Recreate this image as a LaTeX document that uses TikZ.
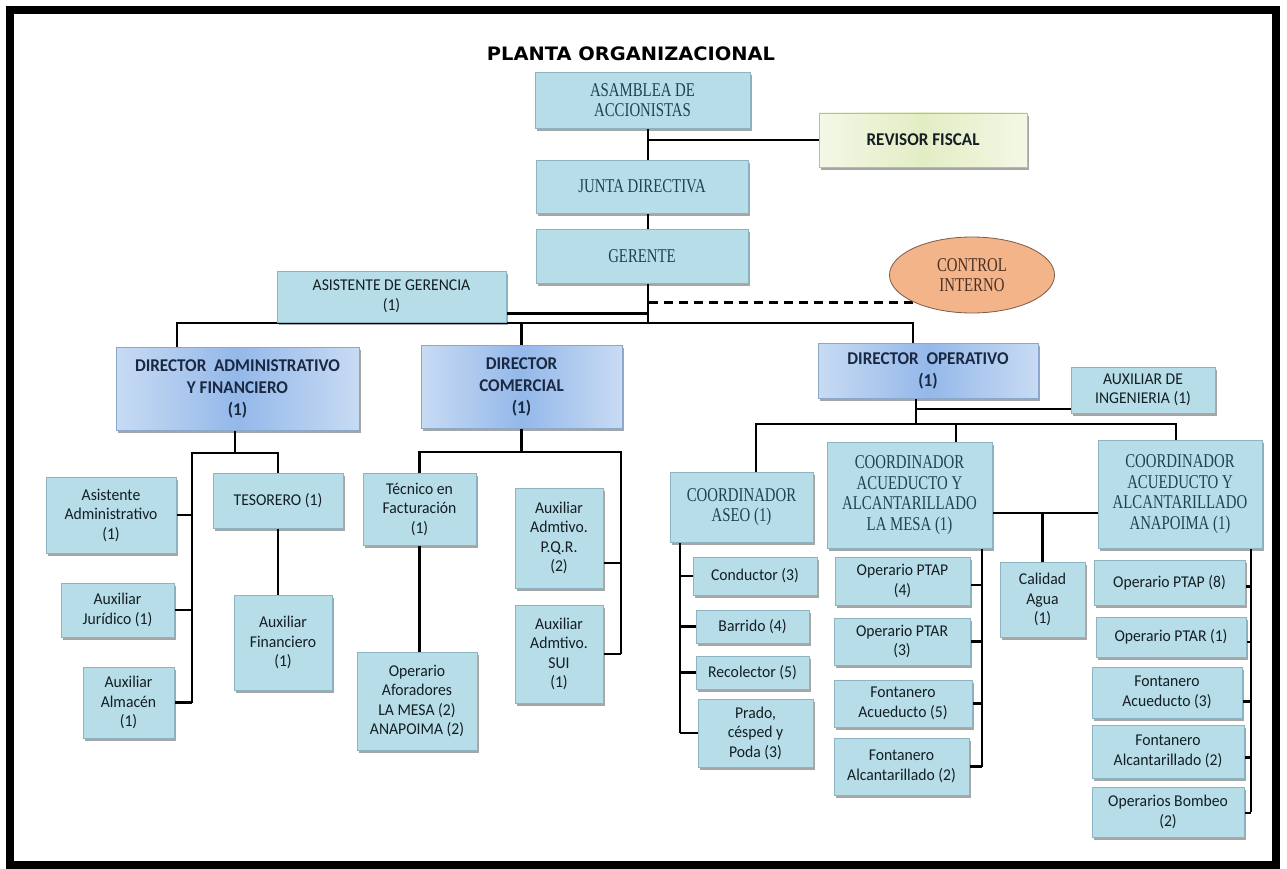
\documentclass[tikz,border=0pt]{standalone}
\usepackage{fontspec}
\setmainfont{Liberation Serif}
\newfontfamily\csans[FakeStretch=0.95]{Carlito}
\newfontfamily\cserif[FakeStretch=0.76]{Liberation Serif}
\newfontfamily\ctitle[FakeStretch=1.05]{DejaVu Sans}
\usetikzlibrary{shadows,backgrounds,calc,shapes.geometric}
\definecolor{lb}{HTML}{B7DDE8}
\definecolor{lbedge}{HTML}{8DB4C2}
\definecolor{txt}{HTML}{141E24}
\definecolor{stxt}{HTML}{1F4252}
\definecolor{dl}{HTML}{C8DBF3}
\definecolor{dd}{HTML}{94B8EA}
\definecolor{dedge}{HTML}{8AA6C8}
\definecolor{dtxt}{HTML}{1A2842}
\definecolor{rl}{HTML}{F3F8E6}
\definecolor{rd}{HTML}{E3EDC4}
\definecolor{redge}{HTML}{B4BFA0}
\definecolor{orf}{HTML}{F4B48A}
\definecolor{ored}{HTML}{7A5A48}
\definecolor{otxt}{HTML}{4A3024}
\tikzset{
  base/.style={rectangle, inner sep=2pt, align=center,
    drop shadow={shadow xshift=2pt, shadow yshift=-3pt, opacity=0.35, fill=black}},
  lbox/.style={base, fill=lb, draw=lbedge, line width=0.8pt,
    font=\csans\fontsize{16.5}{19.5}\selectfont, text=txt},
  sbox/.style={base, fill=lb, draw=lbedge, line width=0.8pt,
    font=\cserif\fontsize{19.5}{20.5}\selectfont, text=stxt},
  dbox/.style={base, left color=dl, right color=dl, middle color=dd, draw=dedge, line width=0.8pt,
    font=\csans\bfseries\fontsize{18}{22}\selectfont, text=dtxt},
  rbox/.style={base, left color=rl, right color=rl, middle color=rd, draw=redge, line width=0.8pt,
    font=\csans\bfseries\fontsize{18}{22}\selectfont, text=txt},
  obox/.style={ellipse, fill=orf, draw=ored, line width=0.8pt, align=center, inner sep=0pt,
    font=\cserif\fontsize{19.5}{20.5}\selectfont, text=otxt},
  conn/.style={line width=2.7pt, black},
  dconn/.style={line width=2.7pt, black, dash pattern=on 9pt off 6pt},
}
\begin{document}
\begin{tikzpicture}[x=1pt, y=-1pt]
\useasboundingbox (0,0) rectangle (1287,869);
\draw[line width=8pt] (10,10) rectangle (1276,865);

\node[font=\ctitle\bfseries\fontsize{18.5}{22}\selectfont] (title) at (631,54) {PLANTA ORGANIZACIONAL};

% top
\node[sbox, minimum width=215pt, minimum height=56pt] (asam) at (642.5,100) {ASAMBLEA DE\\ACCIONISTAS};
\node[rbox, minimum width=208pt, minimum height=54pt] (revisor) at (923,140) {REVISOR FISCAL};
\node[sbox, minimum width=212pt, minimum height=53pt] (junta) at (642,186.5) {JUNTA DIRECTIVA};
\node[sbox, minimum width=212pt, minimum height=54pt] (gerente) at (642,256) {GERENTE};
\node[lbox, minimum width=229pt, minimum height=51pt] (asist) at (391.5,296.5) {ASISTENTE DE GERENCIA\\(1)};
\node[obox, minimum width=165pt, minimum height=76pt] (control) at (972,275) {CONTROL\\INTERNO};

% directors
\node[dbox, minimum width=243pt, minimum height=83pt] (dadm) at (237.5,388.5) {DIRECTOR\ \ ADMINISTRATIVO\\Y FINANCIERO\\(1)};
\node[dbox, minimum width=201pt, minimum height=83pt] (dcom) at (521.5,386.5) {DIRECTOR\\COMERCIAL\\(1)};
\node[dbox, minimum width=220pt, minimum height=55pt] (dop) at (928,370.5) {DIRECTOR\ \ OPERATIVO\\(1)};
\node[lbox, minimum width=144pt, minimum height=46pt] (auxing) at (1143,390) {AUXILIAR DE\\INGENIERIA (1)};

% admin
\node[lbox, minimum width=130pt, minimum height=76pt] (asadm) at (111,515) {Asistente\\Administrativo\\(1)};
\node[lbox, minimum width=113pt, minimum height=54pt] (auxjur) at (117.5,610) {Auxiliar\\Jurídico (1)};
\node[lbox, minimum width=91pt, minimum height=71pt] (auxalm) at (128.5,702.5) {Auxiliar\\Almacén\\(1)};
\node[lbox, minimum width=130pt, minimum height=55pt] (tesor) at (278,500.5) {TESORERO (1)};
\node[lbox, minimum width=98pt, minimum height=95pt] (auxfin) at (283,642.5) {Auxiliar\\Financiero\\(1)};

% comercial
\node[lbox, minimum width=113pt, minimum height=72pt] (tecfac) at (419.5,509) {Técnico en\\Facturación\\(1)};
\node[lbox, minimum width=120pt, minimum height=98pt] (opafo) at (417,701) {Operario\\Aforadores\\LA MESA (2)\\ANAPOIMA (2)};
\node[lbox, minimum width=88pt, minimum height=100pt] (pqr) at (559,538) {Auxiliar\\Admtivo.\\P.Q.R.\\(2)};
\node[lbox, minimum width=88pt, minimum height=98pt] (sui) at (559,654) {Auxiliar\\Admtivo.\\SUI\\(1)};

% operativo
\node[sbox, minimum width=143pt, minimum height=70pt] (aseo) at (741.5,507) {COORDINADOR\\ASEO (1)};
\node[sbox, minimum width=165pt, minimum height=106pt] (lamesa) at (909.5,495) {COORDINADOR\\ACUEDUCTO Y\\ALCANTARILLADO\\LA MESA (1)};
\node[sbox, minimum width=164pt, minimum height=108pt] (anap) at (1180,494) {COORDINADOR\\ACUEDUCTO Y\\ALCANTARILLADO\\ANAPOIMA (1)};
\node[lbox, minimum width=85pt, minimum height=75pt] (calidad) at (1042.5,599.5) {Calidad\\Agua\\(1)};

\node[lbox, minimum width=124pt, minimum height=38pt] (cond) at (755,576) {Conductor (3)};
\node[lbox, minimum width=113pt, minimum height=33pt] (barr) at (752.5,626.5) {Barrido (4)};
\node[lbox, minimum width=113pt, minimum height=33pt] (reco) at (752.5,672.5) {Recolector (5)};
\node[lbox, minimum width=115pt, minimum height=68pt] (prado) at (755.5,733) {Prado,\\césped y\\Poda (3)};

\node[lbox, minimum width=135pt, minimum height=48pt] (ptap4) at (902.5,581) {Operario PTAP\\(4)};
\node[lbox, minimum width=136pt, minimum height=47pt] (ptar3) at (902,641.5) {Operario PTAR\\(3)};
\node[lbox, minimum width=138pt, minimum height=47pt] (fac5) at (903,703.5) {Fontanero\\Acueducto (5)};
\node[lbox, minimum width=135pt, minimum height=57pt] (falc2) at (901.5,766.5) {Fontanero\\Alcantarillado (2)};

\node[lbox, minimum width=151pt, minimum height=45pt] (ptap8) at (1169.5,582.5) {Operario PTAP (8)};
\node[lbox, minimum width=150pt, minimum height=40pt] (ptar1) at (1171,637) {Operario PTAR (1)};
\node[lbox, minimum width=150pt, minimum height=51pt] (fac3) at (1167,692.5) {Fontanero\\Acueducto (3)};
\node[lbox, minimum width=152pt, minimum height=53pt] (falc2b) at (1168,751.5) {Fontanero\\Alcantarillado (2)};
\node[lbox, minimum width=152pt, minimum height=50pt] (bomb) at (1168,812) {Operarios Bombeo\\(2)};

% helper coordinates
\coordinate (stem) at (648,323);
\coordinate (busL) at (177,323);
\coordinate (busR) at (913,323);
\coordinate (aj) at ([yshift=9pt]asist.south east);
\coordinate (a1) at (192,453);
\coordinate (a2) at (235,453);
\coordinate (c1) at (521,452);
\coordinate (c2) at (621,452);
\coordinate (pq) at ([yshift=-25pt]pqr.east);
\coordinate (o0) at (916,424);
\coordinate (ai) at ([yshift=-19pt]auxing.west);
\coordinate (oL) at (756,424);
\coordinate (oM) at (956,424);
\coordinate (oR) at (1176,424);
\coordinate (s1) at (680,542);
\coordinate (m1) at (982,548);
\coordinate (lm) at ([yshift=-18pt]lamesa.east);
\coordinate (n1) at (1251,548);

\begin{pgfonlayer}{background}
\draw[dconn] (control.south west) -- (control.south west -| stem);
\draw[conn] (stem |- asam.south) -- (stem);
\draw[conn] (stem |- revisor.west) -- (revisor.west);
\draw[conn] (aj) -- (aj -| stem);
\draw[conn] (busL |- dadm.north) -- (busL) -- (busR) -- (busR |- dop.north);
\draw[conn] (dcom.north) -- (dcom.north |- busL);
% admin
\draw[conn] (dadm.south -| a2) -- (a2);
\draw[conn] (a1 |- auxalm.east) -- (a1) -- (a1 -| tesor.north) -- (tesor.north);
\draw[conn] (asadm.east) -- (asadm.east -| a1);
\draw[conn] (auxjur.east) -- (auxjur.east -| a1);
\draw[conn] (auxalm.east) -- (auxalm.east -| a1);
\draw[conn] (tesor.south) -- (tesor.south |- auxfin.north);
% comercial
\draw[conn] (dcom.south) -- (dcom.south |- c1);
\draw[conn] (tecfac.north) -- (tecfac.north |- c1) -- (c2) -- (c2 |- sui.east);
\draw[conn] (pq) -- (pq -| c2);
\draw[conn] (sui.east) -- (sui.east -| c2);
\draw[conn] (tecfac.south) -- (tecfac.south |- opafo.north);
% operativo
\draw[conn] (dop.south -| o0) -- (o0);
\draw[conn] (ai) -- (ai -| o0);
\draw[conn] (aseo.north -| oL) -- (oL) -- (oR) -- (anap.north -| oR);
\draw[conn] (oM) -- (oM |- lamesa.north);
\draw[conn] (aseo.south -| s1) -- (s1 |- prado.west);
\draw[conn] (cond.west) -- (cond.west -| s1);
\draw[conn] (barr.west) -- (barr.west -| s1);
\draw[conn] (reco.west) -- (reco.west -| s1);
\draw[conn] (prado.west) -- (prado.west -| s1);
\draw[conn] (lamesa.south -| m1) -- (m1 |- falc2.east);
\draw[conn] ([yshift=-4pt]ptap4.east) -- ([yshift=-4pt]ptap4.east -| m1);
\draw[conn] (ptar3.east) -- (ptar3.east -| m1);
\draw[conn] (fac5.east) -- (fac5.east -| m1);
\draw[conn] (falc2.east) -- (falc2.east -| m1);
\draw[conn] (lm) -- (lm -| anap.west);
\draw[conn] (calidad.north) -- (calidad.north |- lm);
\draw[conn] (anap.south -| n1) -- (n1 |- bomb.east);
\draw[conn] ([yshift=-4pt]ptap8.east) -- ([yshift=-4pt]ptap8.east -| n1);
\draw[conn] ([yshift=-5pt]ptar1.east) -- ([yshift=-5pt]ptar1.east -| n1);
\draw[conn] ([yshift=-9pt]fac3.east) -- ([yshift=-9pt]fac3.east -| n1);
\draw[conn] ([yshift=-6pt]falc2b.east) -- ([yshift=-6pt]falc2b.east -| n1);
\draw[conn] ([yshift=-1pt]bomb.east) -- ([yshift=-1pt]bomb.east -| n1);
\end{pgfonlayer}
\end{tikzpicture}
\end{document}
